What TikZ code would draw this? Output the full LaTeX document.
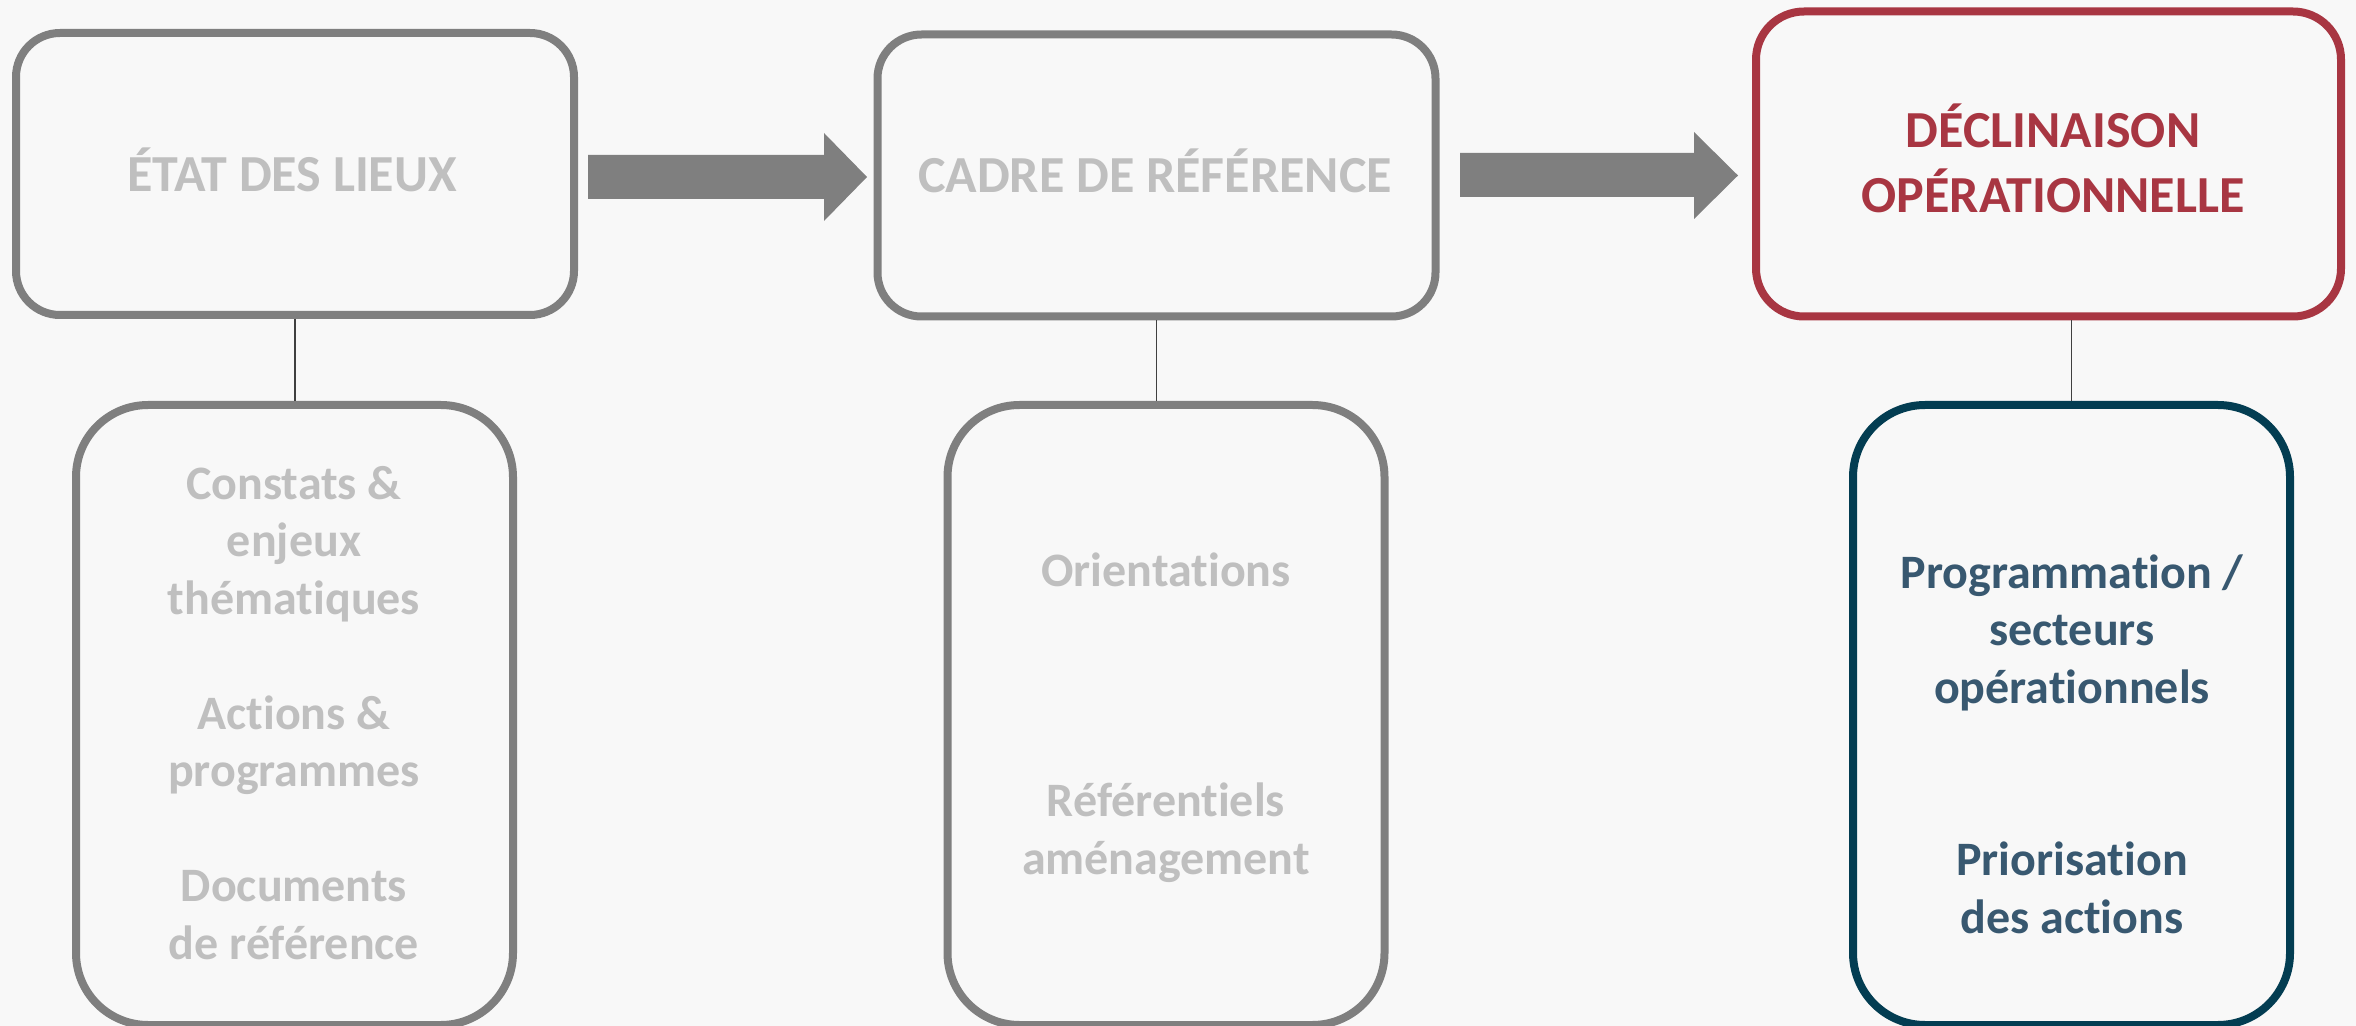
\documentclass[tikz,border=0pt]{standalone}
\usepackage{fontspec}
\setmainfont{Carlito}[Ligatures={NoCommon,NoContextual,NoRequired}, RawFeature={-liga;-clig;-calt}]
\definecolor{bgcol}{HTML}{F8F8F8}
\definecolor{boxgray}{HTML}{7F7F7F}
\definecolor{lighttext}{HTML}{BFBFBF}
\definecolor{redcol}{HTML}{A83642}
\definecolor{tealcol}{HTML}{033D52}
\definecolor{bluetext}{HTML}{385870}
\definecolor{linkcol}{HTML}{404040}
\begin{document}
\begin{tikzpicture}[x=0.5pt,y=-0.5pt,
  topbox/.style={rectangle, draw=boxgray, line width=4pt, minimum width=279pt, minimum height=141pt, rounded corners=22pt, inner sep=0pt},
  botbox/.style={rectangle, draw=boxgray, line width=4pt, minimum width=218.5pt, minimum height=310pt, rounded corners=36pt, inner sep=0pt},
  toptext/.style={font=\bfseries\fontsize{26pt}{32.5pt}\selectfont, text=lighttext, inner sep=0pt, align=center},
  bottext/.style={font=\bfseries\fontsize{24pt}{28.75pt}\selectfont, text=lighttext, inner sep=0pt, align=center},
  link/.style={draw=linkcol, line width=0.75pt},
  blockarrow/.style={fill=boxgray}
]
\fill[bgcol] (0,0) rectangle (2356,1026);
\useasboundingbox (0,0) rectangle (2356,1026);

% top boxes
\node[topbox] (top1) at (295,174) {};
\node[topbox] (top2) at (1156.5,175.5) {};
\node[topbox, draw=redcol, minimum width=292.5pt, minimum height=152.5pt, rounded corners=24pt] (top3) at (2048.5,164) {};

% bottom boxes
\node[botbox] (bot1) at (294.5,715) {};
\node[botbox] (bot2) at (1166,715) {};
\node[botbox, draw=tealcol] (bot3) at (2071.5,715) {};

% connectors
\draw[link] (top1.south) -- (top1.south |- bot1.north);
\draw[link] (top2.south) -- (top2.south |- bot2.north);
\draw[link] (bot3.north) -- (bot3.north |- top3.south);

% block arrows
\fill[blockarrow] (588,155) -- (824,155) -- (824,133) -- (867,177) -- (824,221) -- (824,199) -- (588,199) -- cycle;
\fill[blockarrow] (1460,153) -- (1694,153) -- (1694,132) -- (1738,175.5) -- (1694,219) -- (1694,197) -- (1460,197) -- cycle;

% top texts
\node[toptext, anchor=base] (t1) at (292,192) {ÉTAT DES LIEUX};
\node[toptext, anchor=base] (t2) at (1155,193) {CADRE DE RÉFÉRENCE};
\node[toptext, text=redcol] (t3) at (2053,158.5) {DÉCLINAISON\\OPÉRATIONNELLE};

% bottom texts
\node[bottext] (b1) at (294,713) {Constats \&\\enjeux\\thématiques\\[28.75pt]Actions \&\\programmes\\[28.75pt]Documents\\de référence};
\node[bottext] (b2) at (1166,717.5) {Orientations\\[86.25pt]Référentiels\\aménagement};
\node[bottext, text=bluetext] (b3) at (2072,744) {Programmation /\\secteurs\\opérationnels\\[57.5pt]Priorisation\\des actions};
\end{tikzpicture}
\end{document}
